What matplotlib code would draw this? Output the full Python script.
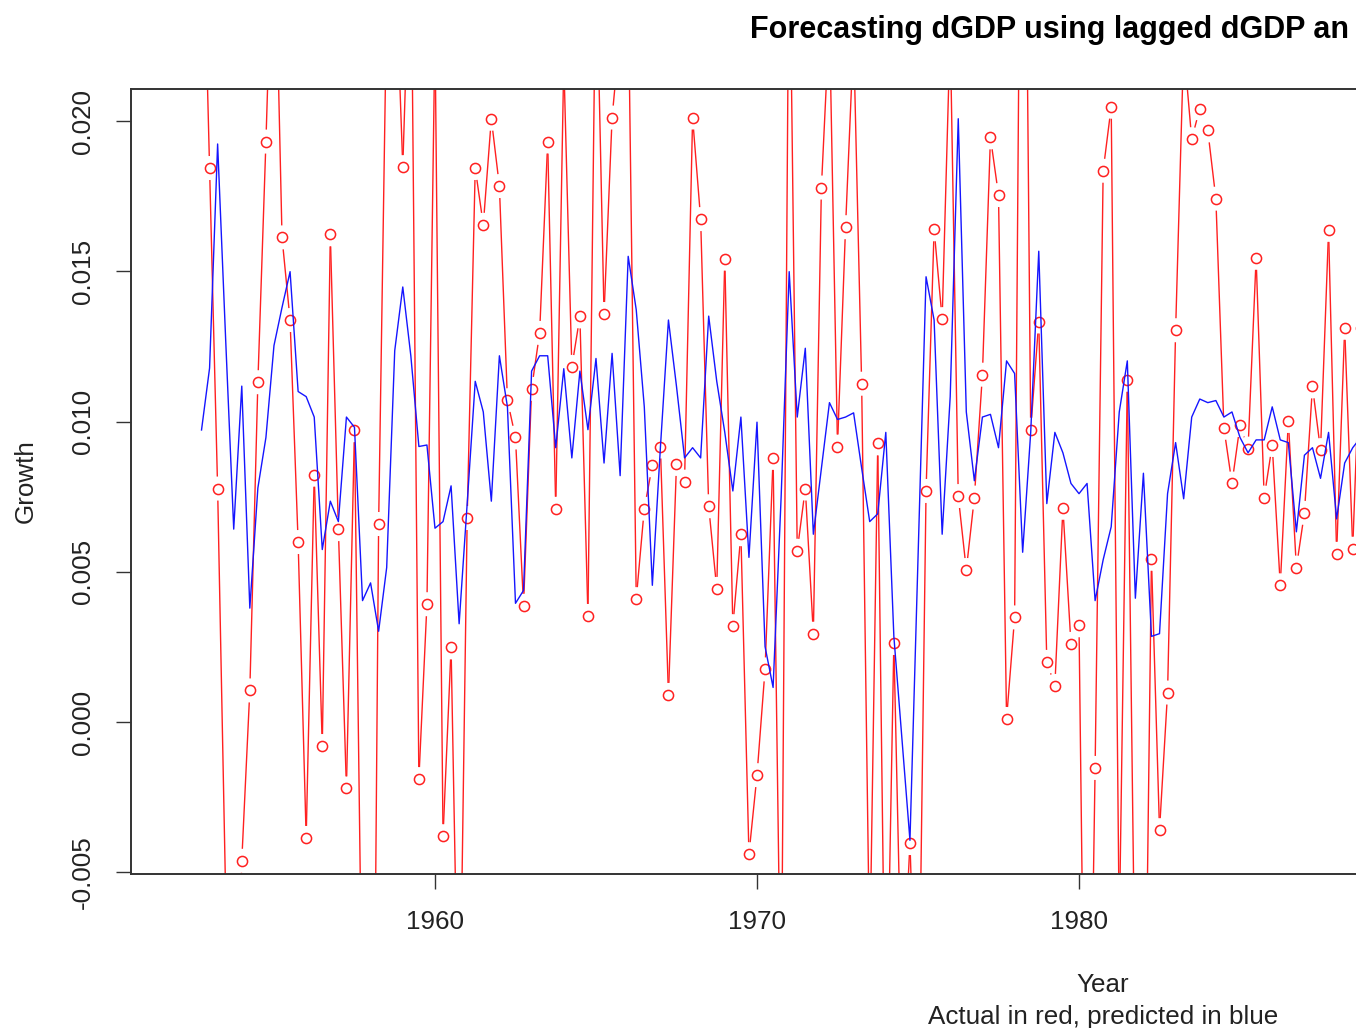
import numpy as np
import matplotlib
matplotlib.use("Agg")
import matplotlib.pyplot as plt
from matplotlib.collections import LineCollection
from matplotlib.transforms import IdentityTransform

plt.rcParams['font.family'] = ['Liberation Sans', 'DejaVu Sans']

# quarterly series, first quarter is 1952 Q4
start_year = 1952.75

# actual dGDP (red)
actual = [
    0.0290, 0.01844, 0.00777, -0.0058,
    -0.0150, -0.00462, 0.00105, 0.01131,
    0.01932, 0.0280, 0.01613, 0.01338,
    0.00599, -0.00386, 0.00823, -0.0008,
    0.01623, 0.00642, -0.00221, 0.00971,
    -0.0110, -0.0260, 0.00659, 0.0240,
    0.0260, 0.01847, 0.0270, -0.0019,
    0.00392, 0.0230, -0.0038, 0.00248,
    -0.0120, 0.00679, 0.01844, 0.01655,
    0.02008, 0.01784, 0.01071, 0.00947,
    0.00387, 0.01109, 0.01295, 0.01932,
    0.0071, 0.0220, 0.01182, 0.0135,
    0.00353, 0.0260, 0.01358, 0.02012,
    0.0230, 0.0245, 0.00409, 0.0071,
    0.00854, 0.00917, 0.0009, 0.00859,
    0.0080, 0.02012, 0.01674, 0.00718,
    0.00443, 0.01542, 0.00319, 0.00625,
    -0.0044, -0.00177, 0.00175, 0.00879,
    -0.0107, 0.0275, 0.0057, 0.00777,
    0.00294, 0.01779, 0.0234, 0.00917,
    0.01647, 0.0228, 0.01126, -0.0080,
    0.00927, -0.0120, 0.00263, -0.0095,
    -0.00403, -0.0123, 0.00769, 0.0164,
    0.01341, 0.0230, 0.00752, 0.00506,
    0.00747, 0.01156, 0.01946, 0.01754,
    0.0001, 0.00348, 0.0390, 0.00973,
    0.01333, 0.0020, 0.0012, 0.00713,
    0.0026, 0.00322, -0.0190, -0.00153,
    0.01835, 0.02048, -0.0070, 0.01139,
    -0.0100, -0.0160, 0.00543, -0.0036,
    0.00098, 0.01304, 0.0225, 0.0194,
    0.02042, 0.01969, 0.01742, 0.00979,
    0.00794, 0.00988, 0.0091, 0.01545,
    0.00747, 0.00922, 0.00455, 0.01002,
    0.00514, 0.00696, 0.01117, 0.00905,
    0.01638, 0.0056, 0.01312, 0.00577,
    0.0131,
]

# predicted dGDP (blue)
predicted = [
    0.00972, 0.01178, 0.01924, 0.01272,
    0.00642, 0.01118, 0.00379, 0.00779,
    0.00947, 0.01253, 0.0138, 0.01499,
    0.0110, 0.01083, 0.01015, 0.00574,
    0.00735, 0.00667, 0.01015, 0.00981,
    0.00404, 0.00463, 0.00302, 0.00514,
    0.01236, 0.01448, 0.01219, 0.00917,
    0.00922, 0.00645, 0.00667, 0.00786,
    0.00327, 0.00727, 0.01134, 0.01032,
    0.00735, 0.01219, 0.01049, 0.00395,
    0.00438, 0.01168, 0.01219, 0.01219,
    0.00913, 0.01176, 0.00879, 0.01168,
    0.00973, 0.0121, 0.00862, 0.01227,
    0.0082, 0.0155, 0.01372, 0.01049,
    0.00455, 0.00913, 0.01338, 0.01117,
    0.00879, 0.00913, 0.00879, 0.01351,
    0.01134, 0.00964, 0.00769, 0.01015,
    0.00548, 0.00998, 0.00251, 0.00115,
    0.0075, 0.01499, 0.01015, 0.01244,
    0.00625, 0.00845, 0.01063, 0.01007,
    0.01015, 0.01029, 0.00845, 0.00667,
    0.00693, 0.00964, 0.00285, -0.00055,
    -0.00394, 0.0054, 0.01482, 0.01338,
    0.00625, 0.01083, 0.02008, 0.01032,
    0.00803, 0.01015, 0.01024, 0.00913,
    0.01202, 0.0116, 0.00565, 0.00964,
    0.01567, 0.00727, 0.00964, 0.00896,
    0.00794, 0.0076, 0.00794, 0.00404,
    0.0054, 0.0065, 0.01032, 0.01202,
    0.00412, 0.00828, 0.00285, 0.00294,
    0.0076, 0.0093, 0.00743, 0.01015,
    0.01075, 0.01063, 0.0107, 0.01015,
    0.01032, 0.00947, 0.00896, 0.00939,
    0.00939, 0.01049, 0.00939, 0.0093,
    0.00633, 0.00888, 0.00913, 0.00811,
    0.00964, 0.00676, 0.00862, 0.00913,
    0.00947,
]

# only the year ticks that fall inside the picture
year_ticks = [1960, 1970, 1980]
growth_ticks = [-0.005, 0.0, 0.005, 0.010, 0.015, 0.020]
growth_labels = ['-0.005', '0.000', '0.005', '0.010', '0.015', '0.020']

W, H = 1356, 1028
fig = plt.figure(figsize=(W / 100, H / 100), dpi=100)
# the plot box runs past the right edge of the picture
ax = fig.add_axes([131 / W, 1 - 874 / H, (2075 - 131) / W, (874 - 89) / H])
ax.set_xlim(1950.56, 2010.93)
ax.set_ylim(-0.00506, 0.02107)

years = start_year + 0.25 * np.arange(len(actual))


def gapped_segments(x, y, gap):
    # lines with gaps round the points, like R's type="b"
    pts = ax.transData.transform(np.column_stack([x, y]))
    segs = []
    for p, q in zip(pts[:-1], pts[1:]):
        d = q - p
        length = np.hypot(d[0], d[1])
        if length > 2 * gap:
            u = d / length
            segs.append([p + u * gap, q - u * gap])
    return segs


lc = LineCollection(gapped_segments(years, actual, 12), colors='#ff2020',
                    linewidths=1.0, transform=IdentityTransform(), zorder=2)
lc.set_clip_box(ax.bbox)
ax.add_collection(lc, autolim=False)
ax.plot(years, actual, linestyle='none', marker='o', markersize=7.3,
        markerfacecolor='none', markeredgecolor='#ff2020', markeredgewidth=1.1,
        zorder=3)
ax.plot(years, predicted, color='#1515ff', linewidth=1.0, zorder=4)

ax.set_xticks(year_ticks)
ax.set_xticklabels([str(y) for y in year_ticks])
ax.set_yticks(growth_ticks, growth_labels)
plt.setp(ax.get_yticklabels(), rotation=90, va='center')
ax.tick_params(axis='both', direction='out', length=10.5, width=1.0,
               color='#333333', labelsize=18.7, labelcolor='#222222')
ax.tick_params(axis='x', pad=15.5)
ax.tick_params(axis='y', pad=15.5)
for s in ax.spines.values():
    s.set_color('#333333')
    s.set_linewidth(1.4)

fig.text(750 / W, 1 - 38 / H, 'Forecasting dGDP using lagged dGDP an',
         ha='left', va='baseline', fontsize=22, fontweight='bold')
fig.text(1103 / W, 1 - 992 / H, 'Year', ha='center', va='baseline',
         fontsize=18.7, color='#222222')
fig.text(1103 / W, 1 - 1024 / H, 'Actual in red, predicted in blue',
         ha='center', va='baseline', fontsize=18.7, color='#222222')
fig.text(33 / W, 1 - 481.5 / H, 'Growth', rotation=90, rotation_mode='anchor',
         ha='center', va='baseline', fontsize=18.7, color='#222222')

fig.savefig('out.png', dpi=100)
